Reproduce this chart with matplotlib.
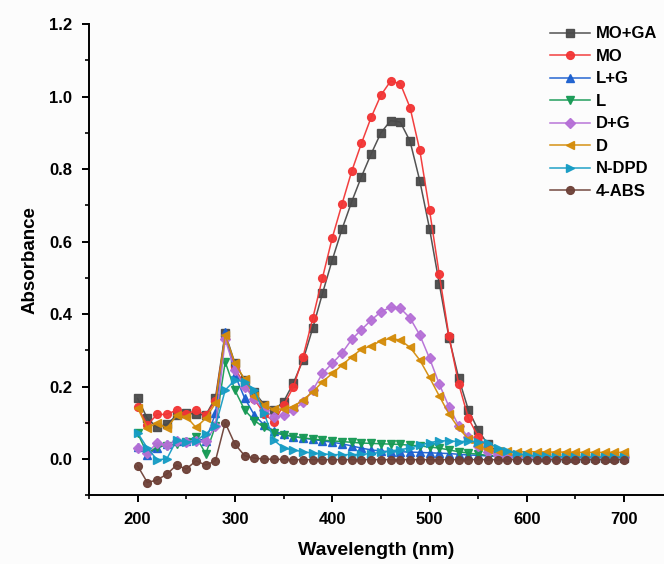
import numpy as np
import matplotlib.pyplot as plt
from matplotlib.ticker import MultipleLocator

plt.rcParams['font.family'] = ['Liberation Sans', 'DejaVu Sans']
plt.rcParams['font.weight'] = 'bold'

wavelength = list(range(200, 710, 10))

mo_ga = [0.167, 0.112, 0.087, 0.096, 0.120, 0.126, 0.124, 0.121, 0.169, 0.347,
         0.264, 0.218, 0.185, 0.150, 0.135, 0.158, 0.209, 0.273, 0.361, 0.457,
         0.549, 0.634, 0.710, 0.779, 0.842, 0.900, 0.934, 0.930, 0.877, 0.768,
         0.636, 0.484, 0.335, 0.223, 0.135, 0.080, 0.040, 0.020, 0.012, 0.008,
         0.006, 0.005, 0.005, 0.005, 0.004, 0.004, 0.004, 0.004, 0.004, 0.004, 0.004]
mo = [0.144, 0.094, 0.123, 0.123, 0.135, 0.123, 0.135, 0.121, 0.160, 0.340,
      0.250, 0.205, 0.165, 0.125, 0.103, 0.148, 0.198, 0.282, 0.388, 0.500,
      0.610, 0.703, 0.794, 0.871, 0.943, 1.004, 1.043, 1.036, 0.970, 0.852,
      0.687, 0.510, 0.339, 0.207, 0.112, 0.062, 0.030, 0.015, 0.008, 0.006,
      0.005, 0.005, 0.004, 0.004, 0.004, 0.004, 0.004, 0.004, 0.004, 0.004, 0.004]
l_g = [0.034, 0.011, 0.030, 0.040, 0.050, 0.050, 0.057, 0.050, 0.126, 0.351,
       0.232, 0.168, 0.121, 0.094, 0.078, 0.068, 0.062, 0.058, 0.054, 0.050,
       0.046, 0.042, 0.036, 0.030, 0.025, 0.022, 0.020, 0.020, 0.019, 0.018,
       0.017, 0.016, 0.015, 0.013, 0.011, 0.010, 0.008, 0.007, 0.006, 0.005,
       0.005, 0.005, 0.005, 0.005, 0.005, 0.005, 0.005, 0.005, 0.005, 0.005, 0.005]
l_only = [0.071, 0.014, 0.034, 0.036, 0.041, 0.048, 0.062, 0.014, 0.091, 0.268,
          0.190, 0.135, 0.106, 0.087, 0.073, 0.066, 0.062, 0.058, 0.055, 0.052,
          0.050, 0.048, 0.046, 0.044, 0.043, 0.042, 0.041, 0.040, 0.038, 0.036,
          0.033, 0.030, 0.025, 0.020, 0.016, 0.013, 0.010, 0.008, 0.007, 0.006,
          0.005, 0.005, 0.005, 0.005, 0.005, 0.005, 0.005, 0.005, 0.005, 0.005, 0.005]
d_g = [0.030, 0.016, 0.045, 0.038, 0.050, 0.047, 0.050, 0.050, 0.090, 0.330,
       0.245, 0.200, 0.165, 0.135, 0.115, 0.120, 0.135, 0.156, 0.190, 0.236,
       0.264, 0.292, 0.330, 0.357, 0.383, 0.406, 0.419, 0.416, 0.389, 0.342,
       0.278, 0.207, 0.144, 0.092, 0.060, 0.035, 0.020, 0.012, 0.008, 0.006,
       0.005, 0.005, 0.005, 0.005, 0.005, 0.005, 0.005, 0.005, 0.005, 0.005, 0.005]
d_only = [0.141, 0.085, 0.100, 0.085, 0.120, 0.117, 0.087, 0.112, 0.154, 0.342,
          0.264, 0.220, 0.175, 0.149, 0.137, 0.138, 0.144, 0.163, 0.185, 0.213,
          0.236, 0.259, 0.282, 0.303, 0.312, 0.326, 0.333, 0.328, 0.308, 0.273,
          0.225, 0.174, 0.124, 0.085, 0.055, 0.035, 0.027, 0.023, 0.021, 0.020,
          0.020, 0.020, 0.019, 0.019, 0.019, 0.018, 0.018, 0.018, 0.018, 0.018, 0.018]
n_dpd = [0.072, 0.030, -0.002, 0.000, 0.052, 0.047, 0.050, 0.070, 0.090, 0.190,
         0.218, 0.213, 0.190, 0.126, 0.052, 0.030, 0.025, 0.020, 0.016, 0.014,
         0.012, 0.012, 0.012, 0.013, 0.015, 0.018, 0.022, 0.026, 0.030, 0.038,
         0.045, 0.050, 0.050, 0.048, 0.049, 0.048, 0.045, 0.030, 0.022, 0.015,
         0.010, 0.008, 0.007, 0.006, 0.006, 0.005, 0.005, 0.005, 0.005, 0.005, 0.005]
abs4 = [-0.019, -0.065, -0.058, -0.042, -0.017, -0.028, -0.005, -0.017, -0.005, 0.100,
        0.041, 0.009, 0.002, 0.000, -0.001, -0.001, -0.002, -0.002, -0.002, -0.002,
        -0.002, -0.002, -0.002, -0.002, -0.002, -0.002, -0.002, -0.002, -0.002, -0.002,
        -0.002, -0.002, -0.002, -0.002, -0.002, -0.002, -0.002, -0.002, -0.002, -0.002,
        -0.002, -0.002, -0.002, -0.002, -0.002, -0.002, -0.002, -0.002, -0.002, -0.002, -0.002]

series = [
    ('MO+GA', mo_ga, '#4a4a4a', 's'),
    ('MO', mo, '#f23535', 'o'),
    ('L+G', l_g, '#1b5fcf', '^'),
    ('L', l_only, '#179a55', 'v'),
    ('D+G', d_g, '#b56fd6', 'D'),
    ('D', d_only, '#d48c0a', '<'),
    ('N-DPD', n_dpd, '#169cc4', '>'),
    ('4-ABS', abs4, '#6d4037', 'o'),
]

fig = plt.figure(figsize=(6.64, 5.64), dpi=100, facecolor='#fcfcfc')
ax = fig.add_axes([0.134, 0.122, 0.866, 0.835])
ax.set_facecolor('#fcfcfc')

for name, vals, col, mk in series:
    ms = 4.8 if mk == 'D' else 5.6
    ax.plot(wavelength, vals, color=col, marker=mk, markersize=ms, linewidth=1.1,
            label=name, alpha=0.95)

ax.set_xlim(150, 741)
ax.set_ylim(-0.1, 1.2)
ax.xaxis.set_minor_locator(MultipleLocator(50))
ax.yaxis.set_minor_locator(MultipleLocator(0.1))
ax.set_xticks([200, 300, 400, 500, 600, 700])
ax.set_xticklabels(['200', '300', '400', '500', '600', '700'])
yt = [0.0, 0.2, 0.4, 0.6, 0.8, 1.0, 1.2]
ax.set_yticks(yt)
ax.set_yticklabels(['%.1f' % v for v in yt])

for s in ['top', 'right']:
    ax.spines[s].set_visible(False)
for s in ['left', 'bottom']:
    ax.spines[s].set_linewidth(1.4)
ax.tick_params(which='major', direction='out', length=5, width=1.4,
               labelsize=12, pad=7)
ax.tick_params(which='minor', direction='out', length=3, width=1.2)
for lab in ax.get_xticklabels() + ax.get_yticklabels():
    lab.set_fontweight('bold')

ax.set_xlabel('Wavelength (nm)', fontsize=14, fontweight='bold', labelpad=11)
ax.set_ylabel('Absorbance', fontsize=13.5, fontweight='bold', labelpad=8)

leg = ax.legend(loc='upper left', bbox_to_anchor=(0.818, 0.965),
                bbox_transform=fig.transFigure, frameon=False,
                prop={'weight': 'bold', 'size': 12}, handlelength=2.4,
                handletextpad=0.35, labelspacing=0.45, borderaxespad=0)

fig.savefig('out.png', dpi=100, facecolor=fig.get_facecolor())
